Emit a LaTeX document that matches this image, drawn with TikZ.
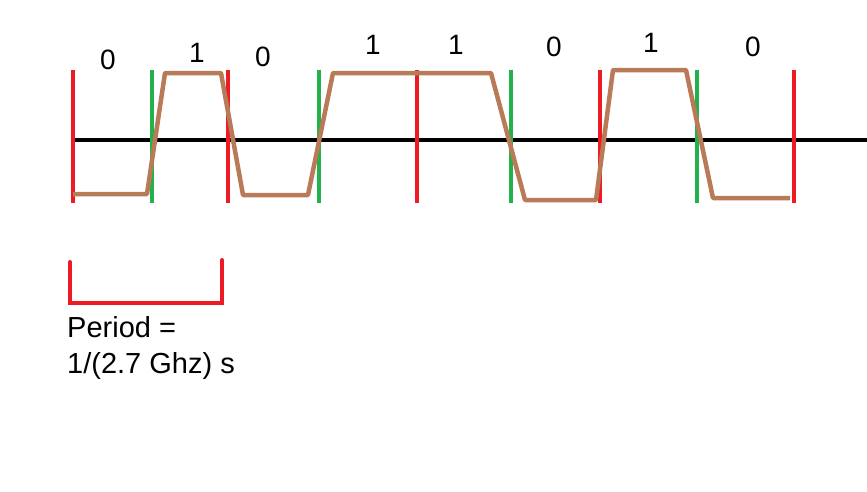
\documentclass[tikz,border=0pt]{standalone}
\usepackage{fontspec}
\setmainfont{Liberation Sans}
\usepackage{tikz}
\usetikzlibrary{positioning}
\definecolor{clockred}{HTML}{ED1C24}
\definecolor{edgegreen}{HTML}{22B14C}
\definecolor{signalbrown}{HTML}{B97A57}

\begin{document}
\begin{tikzpicture}[
    x=1pt, y=-1pt,
    bitlabel/.style={
      inner sep=0pt, font=\fontsize{28}{32}\selectfont
    },
    periodlabel/.style={
      inner sep=0pt, align=left, anchor=north west,
      font=\fontsize{29}{36}\selectfont
    },
    tick/.style={line width=4pt},
    axisline/.style={line width=4.5pt, black},
    signal/.style={line width=4.5pt, signalbrown, line join=round}
  ]
  \useasboundingbox (0,0) rectangle (867,491);

  % Time axis
  \draw[axisline] (73,140) -- (867,140);

  % Clock edges
  \foreach \x in {73,228,417,600,794}
    \draw[tick, clockred] (\x,70) -- (\x,203);
  \foreach \x in {152,319,511,697}
    \draw[tick, edgegreen] (\x,70) -- (\x,203);

  % Signal
  \draw[signal] (73,194) -- (147,194) -- (165,73) -- (221,73)
    -- (243,195) -- (308,195) -- (333,73) -- (491,73)
    -- (525,200) -- (596,200) -- (613,70) -- (686,70)
    -- (713,198) -- (790,198);

  % Bit labels
  \node[bitlabel] (b1) at (108,60) {0};
  \node[bitlabel] (b2) at (197,53) {1};
  \node[bitlabel] (b3) at (263,57) {0};
  \node[bitlabel] (b4) at (373,45) {1};
  \node[bitlabel] (b5) at (456,45) {1};
  \node[bitlabel] (b6) at (554,47) {0};
  \node[bitlabel] (b7) at (651,43) {1};
  \node[bitlabel] (b8) at (753,47) {0};

  % Period bracket
  \draw[tick, clockred, line cap=round] (70,262) -- (70,303) -- (222,303) -- (222,260);
  \node[periodlabel] (period) at (67,316) {Period =\\1/(2.7 Ghz) s};
\end{tikzpicture}
\end{document}
